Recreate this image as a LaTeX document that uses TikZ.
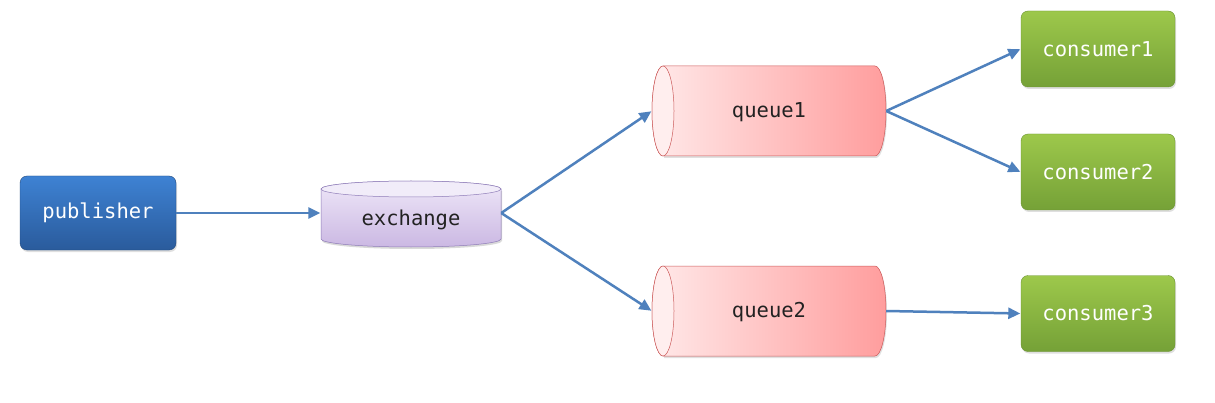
\documentclass[tikz,border=0pt]{standalone}
\usepackage{fontspec}
\setmonofont{DejaVu Sans Mono}
\usetikzlibrary{arrows.meta,shadows}
\definecolor{arrowblue}{HTML}{4F81BD}
\definecolor{pubtop}{HTML}{3E82D3}
\definecolor{pubbot}{HTML}{2A5B9C}
\definecolor{contop}{HTML}{9DC84B}
\definecolor{conbot}{HTML}{75A137}
\definecolor{qlight}{HTML}{FFE9E9}
\definecolor{qdark}{HTML}{FF9D9D}
\definecolor{qborder}{HTML}{CC5B5B}
\definecolor{qend}{HTML}{FFEEEE}
\definecolor{extop}{HTML}{EEE7F8}
\definecolor{exbot}{HTML}{CBB8E3}
\definecolor{exborder}{HTML}{8E7CB8}
\definecolor{txt}{HTML}{222222}
\tikzset{
  x=1pt,y=1pt,
  lbl/.style={font=\ttfamily\fontsize{20.5}{24}\selectfont},
  solidbox/.style={lbl, text=white, rounded corners=7pt, inner sep=0pt,
    drop shadow={opacity=0.25, shadow xshift=1pt, shadow yshift=-2pt}},
  pubbox/.style={solidbox, top color=pubtop, bottom color=pubbot, draw=pubbot!80!black, line width=0.4pt},
  conbox/.style={solidbox, top color=contop, bottom color=conbot, draw=conbot!90!black, line width=0.4pt,
    minimum width=154pt, minimum height=76pt},
  cyltext/.style={lbl, text=txt, inner sep=0pt},
  flow/.style={draw=arrowblue, line width=2.5pt, -{Triangle[length=12pt,width=11pt]}, shorten >=0.5pt},
}
\begin{document}
\begin{tikzpicture}
\useasboundingbox (0,0) rectangle (1215,402);
\fill[white] (0,0) rectangle (1215,402);

% publisher
\node[pubbox, minimum width=156pt, minimum height=74pt] (pub) at (98,189) {publisher};

% exchange cylinder (vertical)
\fill[black, opacity=0.15] (322,211) -- (322,161) arc[start angle=180,end angle=360,x radius=90,y radius=8] -- (502,211) -- cycle;
\shade[top color=extop, bottom color=exbot, draw=exborder, line width=0.5pt]
  (321,213) -- (321,163) arc[start angle=180,end angle=360,x radius=90,y radius=8] -- (501,213)
  arc[start angle=0,end angle=180,x radius=90,y radius=8] -- cycle;
\fill[extop!80!white, draw=exborder, line width=0.5pt] (411,213) ellipse[x radius=90,y radius=8];
\node[cyltext, minimum width=180pt, minimum height=50pt] (ex) at (411,189) {};
\node[cyltext] (exlabel) at (411,182) {exchange};

% queues (horizontal)
\foreach \n/\cy in {q1/291, q2/91}{
  \fill[black, opacity=0.12] (664,\cy+43) -- (876,\cy+43) arc[start angle=90,end angle=-90,x radius=11,y radius=45] -- (664,\cy-47) -- cycle;
  \shade[left color=qlight, right color=qdark, draw=qborder, line width=0.5pt]
    (663,\cy+45) -- (875,\cy+45) arc[start angle=90,end angle=-90,x radius=11,y radius=45]
    -- (663,\cy-45) arc[start angle=270,end angle=90,x radius=11,y radius=45] -- cycle;
  \fill[qend, draw=qborder, line width=0.5pt] (663,\cy) ellipse[x radius=11,y radius=45];
}
\node[cyltext, minimum width=234pt, minimum height=90pt] (q1) at (769,291) {};
\node[cyltext] (q1label) at (769,290) {queue1};
\node[cyltext, minimum width=234pt, minimum height=90pt] (q2) at (769,91) {};
\node[cyltext] (q2label) at (769,90) {queue2};

% consumers
\node[conbox] (c1) at (1098,353) {consumer1};
\node[conbox] (c2) at (1098,230) {consumer2};
\node[conbox] (c3) at (1098,88.5) {consumer3};

% connectors
\draw[flow] (pub.east) -- (ex.west);
\draw[flow] (ex.east) -- (q1.west);
\draw[flow] (ex.east) -- (q2.west);
\draw[flow] (q1.east) -- (c1.west);
\draw[flow] (q1.east) -- (c2.west);
\draw[flow] (q2.east) -- (c3.west);
\end{tikzpicture}
\end{document}
